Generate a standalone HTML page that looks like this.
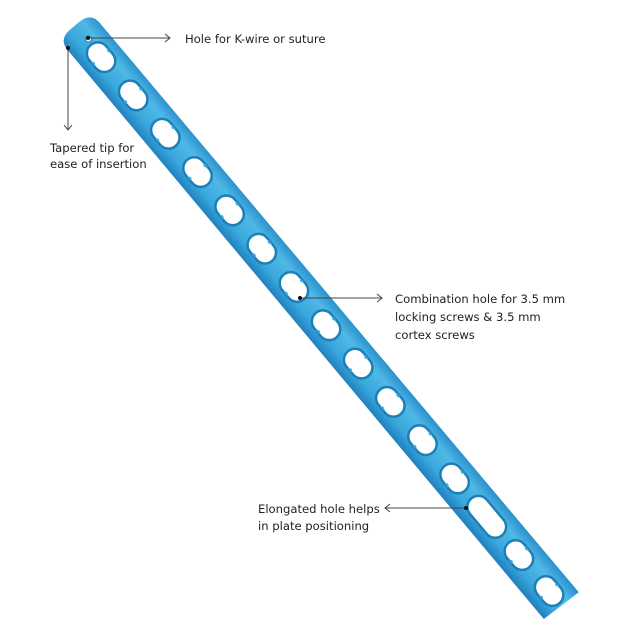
<!DOCTYPE html>
<html><head><style>
body{margin:0;background:#fff;}
svg{display:block;}
text{font-family:"DejaVu Sans","Liberation Sans",sans-serif;font-size:11.6px;fill:#222;}
</style></head><body>
<svg width="640" height="640" viewBox="0 0 640 640">
<defs>
<linearGradient id="g" x1="0" y1="-22" x2="0" y2="22" gradientUnits="userSpaceOnUse">
<stop offset="0" stop-color="#2a8fcc"/><stop offset="0.3" stop-color="#4fb8e6"/><stop offset="0.7" stop-color="#3aa8dd"/><stop offset="1" stop-color="#1f7fbd"/>
</linearGradient>
<g id="h"><path d="M-16,0 a11,11 0 0 1 11,-11 h10 a11,11 0 0 1 11,11 a11,11 0 0 1 -11,11 h-10 a11,11 0 0 1 -11,-11z" fill="#fff" stroke="#1c7fb8" stroke-width="2.5"/><path d="M-3,-11 q3,5 6,0 M-3,11 q3,-5 6,0" fill="#3aa8dd"/></g>
</defs>
<g transform="translate(85,38) rotate(50)">
<path d="M-2,-21 Q-16,-21 -16,-6 L-16,6 Q-16,21 -2,21 L740,22 L742,-22 Z" fill="url(#g)"/>
<circle cx="3" cy="-2" r="3" fill="#fff" stroke="#1c7fb8"/>
<use href="#h" x="25"/><use href="#h" x="75"/><use href="#h" x="125"/><use href="#h" x="175"/><use href="#h" x="225"/><use href="#h" x="275"/><use href="#h" x="325"/><use href="#h" x="375"/><use href="#h" x="425"/><use href="#h" x="475"/><use href="#h" x="525"/><use href="#h" x="575"/>
<rect x="601" y="-11" width="48" height="22" rx="11" fill="#fff" stroke="#1c7fb8" stroke-width="2.5"/>
<use href="#h" x="675"/><use href="#h" x="722"/>
</g>
<g stroke="#444" stroke-width="1" fill="none">
<line x1="88" y1="38" x2="170" y2="38"/><path d="M165,34 L170,38 L165,42"/>
<line x1="68" y1="48" x2="68" y2="130"/><path d="M64,125 L68,130 L72,125"/>
<line x1="300" y1="298" x2="382" y2="298"/><path d="M377,294 L382,298 L377,302"/>
<line x1="466" y1="508" x2="385" y2="508"/><path d="M390,504 L385,508 L390,512"/>
</g>
<circle cx="88" cy="38" r="2" fill="#111"/><circle cx="68" cy="48" r="2" fill="#111"/>
<circle cx="300" cy="298" r="2" fill="#111"/><circle cx="466" cy="508" r="2" fill="#111"/>
<text x="185" y="43">Hole for K-wire or suture</text>
<text x="50" y="152">Tapered tip for</text>
<text x="50" y="168">ease of insertion</text>
<text x="395" y="303">Combination hole for 3.5 mm</text>
<text x="395" y="321">locking screws &amp; 3.5 mm</text>
<text x="395" y="339">cortex screws</text>
<text x="258" y="513">Elongated hole helps</text>
<text x="258" y="530">in plate positioning</text>
</svg>
</body></html>
